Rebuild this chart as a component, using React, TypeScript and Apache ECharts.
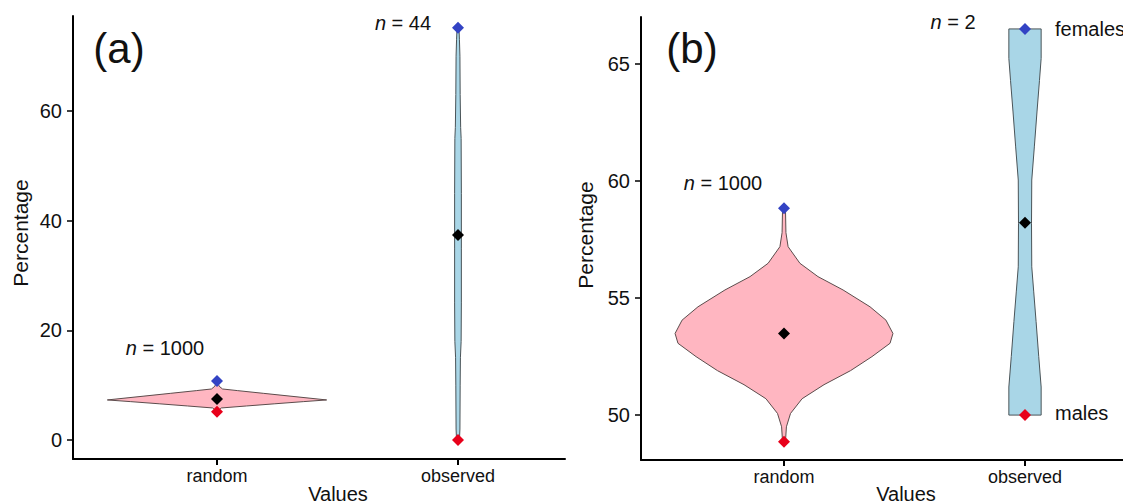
import React, { useEffect, useRef } from "react";
import * as echarts from "echarts";

// ---------- data ----------
const categories = ["random", "observed"];
const aYTicks = [0, 20, 40, 60];
const bYTicks = [50, 55, 60, 65];
const xTicks = [1, 2];

// Panel (a): violin profiles (value, half-width in x units)
const aRandY = [5.16, 5.5, 5.84, 6.2, 6.6, 7.0, 7.3, 7.6, 8.0, 8.5, 9.0, 9.3, 9.8, 10.3, 10.76];
const aRandHW = [0.005, 0.009, 0.018, 0.122, 0.24, 0.36, 0.455, 0.39, 0.303, 0.194, 0.086, 0.023, 0.009, 0.005, 0.002];
const aObsY = [0, 2, 10, 15, 18, 25, 35, 45, 55, 57, 63, 70, 73, 75.2];
const aObsHW = [0.006, 0.008, 0.009, 0.01, 0.013, 0.014, 0.014, 0.014, 0.013, 0.011, 0.009, 0.008, 0.006, 0.004];
const aFemales = [10.76, 75.2];
const aMeans = [7.48, 37.4];
const aMales = [5.16, 0];
const aN = ["1000", "44"];

// Panel (b)
const bRandY = [48.86, 49.5, 50.07, 50.7, 51.3, 51.9, 52.5, 53.07, 53.49, 54.06, 54.63, 55.35, 55.92, 56.49, 57.2, 57.8, 58.84];
const bRandHW = [0.006, 0.01, 0.027, 0.075, 0.166, 0.276, 0.365, 0.44, 0.452, 0.423, 0.357, 0.245, 0.141, 0.066, 0.017, 0.008, 0.006];
const bObsY = [50.0, 51.2, 52.5, 54.0, 55.3, 56.34, 58.2, 60.05, 61.5, 63.0, 64.3, 65.25, 66.51];
const bObsHW = [0.067, 0.067, 0.057, 0.046, 0.036, 0.028, 0.027, 0.028, 0.039, 0.05, 0.06, 0.067, 0.067];
const bFemales = [58.84, 66.51];
const bMeans = [53.49, 58.22];
const bMales = [48.86, 50.0];
const bN = ["1000", "2"];

// ---------- styles ----------
const FONT = "'Liberation Sans', Arial, Helvetica, sans-serif";
const PINK = "#FFB6C1";
const LIGHTBLUE = "#A9D6E7";
const BLUE = "#3343C4";
const RED = "#E8001A";

type Profile = { ys: number[]; hw: number[]; fill: string; stroke: string };

function violinSeries(idx: number, profiles: Profile[]) {
  return {
    type: "custom",
    coordinateSystem: "cartesian2d",
    xAxisIndex: idx,
    yAxisIndex: idx,
    silent: true,
    z: 2,
    data: profiles.map((p, i) => [i + 1, p.ys[0]]),
    renderItem: (params: any, api: any) => {
      const p = profiles[params.dataIndex];
      const cx = api.value(0);
      const left = p.ys.map((y, k) => api.coord([cx - p.hw[k], y]));
      const right = p.ys.map((y, k) => api.coord([cx + p.hw[k], y])).reverse();
      return {
        type: "polygon",
        shape: { points: left.concat(right) },
        style: { fill: p.fill, stroke: p.stroke, lineWidth: 1 },
      };
    },
  };
}

function pointSeries(idx: number, values: number[], color: string) {
  return {
    type: "scatter",
    xAxisIndex: idx,
    yAxisIndex: idx,
    symbol: "diamond",
    symbolSize: 12,
    z: 5,
    itemStyle: { color, opacity: 1 },
    data: values.map((v, i) => [i + 1, v]),
  };
}

function xAxis(gridIndex: number, min: number, max: number) {
  return {
    type: "value",
    gridIndex,
    min,
    max,
    axisLine: { show: true, onZero: false, lineStyle: { color: "#000", width: 2 } },
    axisTick: { show: true, length: 6, customValues: xTicks, lineStyle: { color: "#000", width: 2 } },
    axisLabel: {
      customValues: xTicks,
      formatter: (v: number) => categories[Math.round(v) - 1] ?? "",
      fontSize: 18,
      fontFamily: FONT,
      color: "#111",
      margin: 8,
    },
    splitLine: { show: false },
  };
}

function yAxis(gridIndex: number, min: number, max: number, ticks: number[]) {
  return {
    type: "value",
    gridIndex,
    min,
    max,
    axisLine: { show: true, onZero: false, lineStyle: { color: "#000", width: 2 } },
    axisTick: { show: true, length: 6, customValues: ticks, lineStyle: { color: "#000", width: 1.5 } },
    axisLabel: {
      customValues: ticks,
      fontSize: 20,
      fontFamily: FONT,
      color: "#111",
      margin: 11,
    },
    splitLine: { show: false },
  };
}

function txt(x: number, y: number, text: string, fontSize: number, align = "center", extra: any = {}) {
  return {
    type: "text",
    x,
    y,
    silent: true,
    z: 10,
    ...extra,
    style: {
      text,
      fontSize,
      fontFamily: FONT,
      fill: "#111",
      align,
      verticalAlign: "middle",
      rich: {
        i: { fontStyle: "italic", fontSize, fontFamily: FONT, fill: "#111" },
      },
    },
  };
}

export default function App() {
  const ref = useRef<HTMLDivElement>(null);

  useEffect(() => {
    document.body.style.margin = "0";
    if (!ref.current) return;
    const chart = echarts.init(ref.current, undefined, { renderer: "svg" });

    const option: any = {
      animation: false,
      backgroundColor: "#fff",
      grid: [
        { left: 73, top: 16, width: 492, height: 443, outerBoundsMode: "none", containLabel: false },
        { left: 641, top: 17, width: 530, height: 443, outerBoundsMode: "none", containLabel: false },
      ],
      xAxis: [xAxis(0, 0.4025, 2.444), xAxis(1, 0.4066, 2.6058)],
      yAxis: [yAxis(0, -3.47, 77.33, aYTicks), yAxis(1, 48.08, 67.02, bYTicks)],
      series: [
        violinSeries(0, [
          { ys: aRandY, hw: aRandHW, fill: PINK, stroke: "#5c4c4c" },
          { ys: aObsY, hw: aObsHW, fill: LIGHTBLUE, stroke: "#4a5458" },
        ]),
        violinSeries(1, [
          { ys: bRandY, hw: bRandHW, fill: PINK, stroke: "#5c4c4c" },
          { ys: bObsY, hw: bObsHW, fill: LIGHTBLUE, stroke: "#4a5458" },
        ]),
        pointSeries(0, aFemales, BLUE),
        pointSeries(0, aMales, RED),
        pointSeries(0, aMeans, "#000"),
        pointSeries(1, bFemales, BLUE),
        pointSeries(1, bMales, RED),
        pointSeries(1, bMeans, "#000"),
      ],
      graphic: [
        txt(119, 48, "(a)", 42),
        txt(692, 48, "(b)", 42),
        txt(165, 348, `{i|n} = ${aN[0]}`, 20),
        txt(403, 23, `{i|n} = ${aN[1]}`, 20),
        txt(723, 183, `{i|n} = ${bN[0]}`, 20),
        txt(953, 22, `{i|n} = ${bN[1]}`, 20),
        txt(1055, 29, "females", 20, "left"),
        txt(1055, 413, "males", 20, "left"),
        txt(338, 494, "Values", 20),
        txt(906, 494, "Values", 20),
        txt(20, 233, "Percentage", 21, "center", { rotation: Math.PI / 2 }),
        txt(585, 235, "Percentage", 21, "center", { rotation: Math.PI / 2 }),
      ],
    };

    chart.setOption(option);
    return () => chart.dispose();
  }, []);

  return (
    <div
      ref={ref}
      style={{ position: "absolute", left: 0, top: 0, width: 1123, height: 504 }}
    />
  );
}
